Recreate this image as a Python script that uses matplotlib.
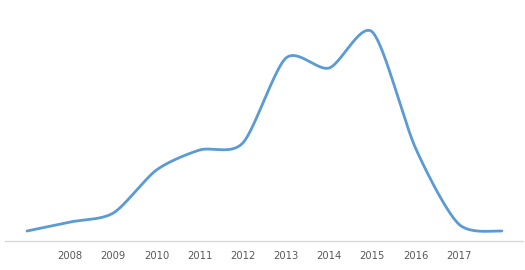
import numpy as np
import matplotlib
matplotlib.use("Agg")
import matplotlib.pyplot as plt

years = ["", "2008", "2009", "2010", "2011", "2012", "2013", "2014", "2015", "2016", "2017", ""]
values = [10, 19, 28, 71, 91, 98, 183, 173, 209, 93, 17, 10]


def cardinal(xs, ys, k=0.8, n=40):
    pts = np.column_stack([xs, ys]).astype(float)
    p = np.vstack([pts[0], pts, pts[-1]])
    out = []
    for i in range(1, len(p) - 2):
        p0, p1, p2, p3 = p[i - 1], p[i], p[i + 1], p[i + 2]
        m1 = k * (p2 - p0) / 2
        m2 = k * (p3 - p1) / 2
        t = np.linspace(0, 1, n, endpoint=False)[:, None]
        h00 = 2 * t ** 3 - 3 * t ** 2 + 1
        h10 = t ** 3 - 2 * t ** 2 + t
        h01 = -2 * t ** 3 + 3 * t ** 2
        h11 = t ** 3 - t ** 2
        out.append(h00 * p1 + h10 * m1 + h01 * p2 + h11 * m2)
    out.append(pts[-1][None, :])
    out = np.vstack(out)
    return out[:, 0], out[:, 1]


fig = plt.figure(figsize=(5.25, 2.7), dpi=100)
ax = fig.add_axes([5.4 / 525, 29 / 270, 518 / 525, 221 / 270])

x = np.arange(len(values))
sx, sy = cardinal(x, values)
ax.plot(sx, sy, color="#5b9bd5", lw=2.0, solid_capstyle="round")

ax.set_xlim(-0.5, len(values) - 0.5)
ax.set_ylim(0, 221)
ax.set_xticks(x)
ax.set_xticklabels(years, fontsize=7.2, color="#595959", family="DejaVu Sans")
ax.tick_params(axis="x", length=0, pad=7)
ax.set_yticks([])
for s in ["top", "left", "right"]:
    ax.spines[s].set_visible(False)
ax.spines["bottom"].set_color("#d9d9d9")
ax.spines["bottom"].set_linewidth(1.0)

fig.savefig("out.png", dpi=100)
